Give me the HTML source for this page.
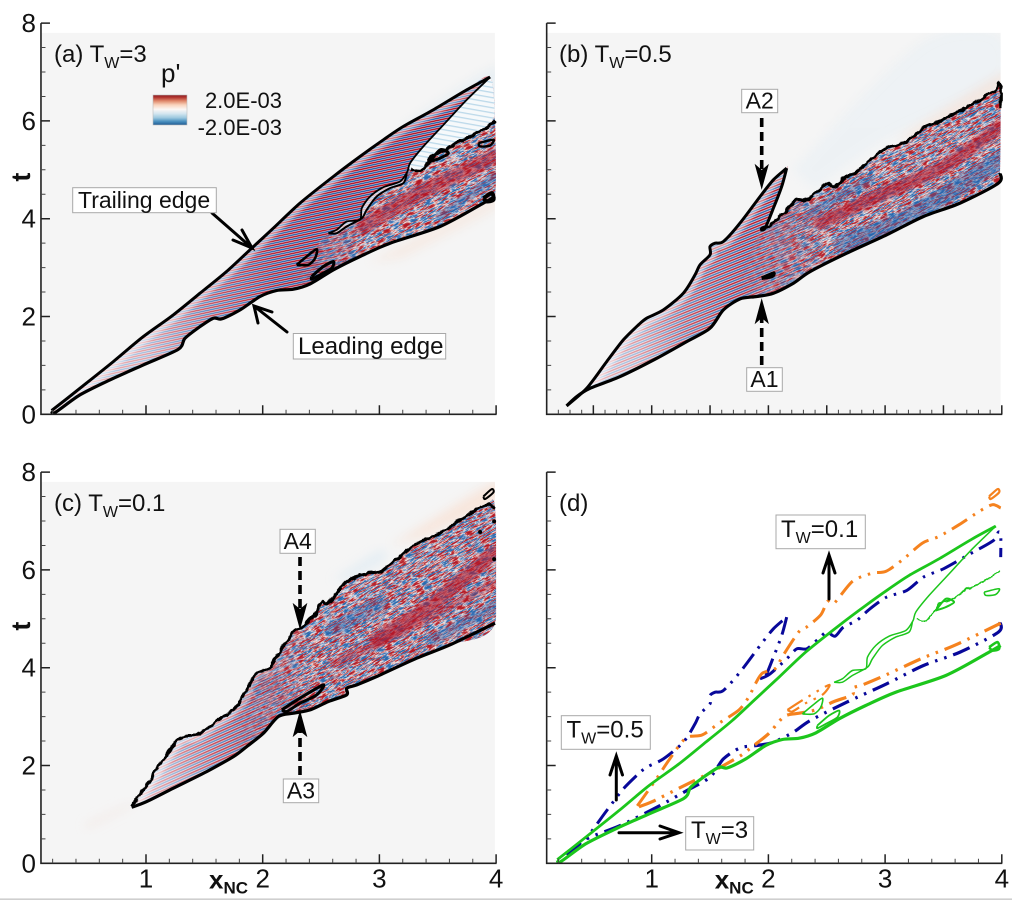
<!DOCTYPE html>
<html lang="en">
<head>
<meta charset="utf-8">
<title>Pressure fluctuation wave packets at several wall temperatures</title>
<style>
html,body{margin:0;padding:0;background:#fff;width:1012px;height:900px;overflow:hidden}
svg{display:block;font-family:"Liberation Sans",sans-serif}
text{fill:#111}
.box{fill:#fff;stroke:#a8a8a8;stroke-width:1}
.arrow{fill:none;stroke:#000;stroke-width:3;stroke-linecap:round;stroke-linejoin:miter}
.dash{fill:none;stroke:#000;stroke-width:3.6;stroke-dasharray:9 5}
</style>
</head>
<body>
<svg id="figure" xmlns="http://www.w3.org/2000/svg" width="1012" height="900" viewBox="0 0 1012 900">
  <defs>
    <pattern id="stripes-a" patternUnits="userSpaceOnUse" width="4" height="4" patternTransform="rotate(-12)">
      <rect width="4" height="4" fill="#f3dfe0"/><rect y="0" width="4" height="1.5" fill="#b2182b"/><rect y="2" width="4" height="1.5" fill="#2a62ad"/>
    </pattern>
    <pattern id="stripes-b" patternUnits="userSpaceOnUse" width="4.4" height="4.4" patternTransform="rotate(-22)">
      <rect width="4.4" height="4.4" fill="#f3dfe0"/><rect y="0" width="4.4" height="1.5" fill="#b2182b"/><rect y="2.2" width="4.4" height="1.5" fill="#2a62ad"/>
    </pattern>
    <pattern id="stripes-c" patternUnits="userSpaceOnUse" width="4.4" height="4.4" patternTransform="rotate(-24)">
      <rect width="4.4" height="4.4" fill="#f3dfe0"/><rect y="0" width="4.4" height="1.6" fill="#b2182b"/><rect y="2.2" width="4.4" height="1.5" fill="#2a62ad"/>
    </pattern>
    <pattern id="stripes-pale" patternUnits="userSpaceOnUse" width="5" height="5" patternTransform="rotate(10)">
      <rect width="5" height="5" fill="#f6f9fb"/><rect y="0" width="5" height="1.3" fill="#bcd9ea"/>
    </pattern>
    <filter id="noise-a" x="0" y="0" width="1" height="1" color-interpolation-filters="sRGB">
      <feTurbulence type="fractalNoise" baseFrequency="0.1 0.7" numOctaves="2" seed="4"/>
      <feColorMatrix type="matrix" values="1 0 0 0 0 1 0 0 0 0 1 0 0 0 0 0 0 0 0 1"/>
      <feComponentTransfer>
        <feFuncR type="table" tableValues=".13 .13 .13 .16 .3 .97 .76 .7 .7 .7 .7"/>
        <feFuncG type="table" tableValues=".4 .4 .4 .42 .5 .94 .22 .1 .1 .1 .1"/>
        <feFuncB type="table" tableValues=".67 .67 .67 .68 .75 .92 .22 .16 .16 .16 .16"/>
      </feComponentTransfer>
    </filter>
    <filter id="noise-b" x="0" y="0" width="1" height="1" color-interpolation-filters="sRGB">
      <feTurbulence type="fractalNoise" baseFrequency="0.11 0.75" numOctaves="2" seed="11"/>
      <feColorMatrix type="matrix" values="1 0 0 0 0 1 0 0 0 0 1 0 0 0 0 0 0 0 0 1"/>
      <feComponentTransfer>
        <feFuncR type="table" tableValues=".13 .13 .13 .16 .3 .97 .76 .7 .7 .7 .7"/>
        <feFuncG type="table" tableValues=".4 .4 .4 .42 .5 .94 .22 .1 .1 .1 .1"/>
        <feFuncB type="table" tableValues=".67 .67 .67 .68 .75 .92 .22 .16 .16 .16 .16"/>
      </feComponentTransfer>
    </filter>
    <filter id="noise-c" x="0" y="0" width="1" height="1" color-interpolation-filters="sRGB">
      <feTurbulence type="fractalNoise" baseFrequency="0.11 0.75" numOctaves="2" seed="23"/>
      <feColorMatrix type="matrix" values="1 0 0 0 0 1 0 0 0 0 1 0 0 0 0 0 0 0 0 1"/>
      <feComponentTransfer>
        <feFuncR type="table" tableValues=".13 .13 .13 .16 .3 .97 .76 .7 .7 .7 .7"/>
        <feFuncG type="table" tableValues=".4 .4 .4 .42 .5 .94 .22 .1 .1 .1 .1"/>
        <feFuncB type="table" tableValues=".67 .67 .67 .68 .75 .92 .22 .16 .16 .16 .16"/>
      </feComponentTransfer>
    </filter>
    <filter id="soft" x="-20%" y="-20%" width="140%" height="140%"><feGaussianBlur stdDeviation="1.5"/></filter>
    <filter id="softer" x="-20%" y="-20%" width="140%" height="140%"><feGaussianBlur stdDeviation="5"/></filter>
    <filter id="rough" x="-5%" y="-5%" width="110%" height="110%" color-interpolation-filters="sRGB">
      <feTurbulence type="fractalNoise" baseFrequency="0.13" numOctaves="2" seed="7" result="wobble"/>
      <feDisplacementMap in="SourceGraphic" in2="wobble" scale="5" xChannelSelector="R" yChannelSelector="G"/>
    </filter>
    <linearGradient id="colorbar-gradient" x1="0" y1="0" x2="0" y2="1">
      <stop offset="0" stop-color="#8a1c22"/><stop offset=".08" stop-color="#b2352f"/>
      <stop offset=".2" stop-color="#e08a6c"/><stop offset=".33" stop-color="#f9d3bd"/>
      <stop offset=".48" stop-color="#fbf7f5"/><stop offset=".62" stop-color="#d4e6f0"/>
      <stop offset=".76" stop-color="#9cc8df"/><stop offset=".88" stop-color="#4a90bf"/>
      <stop offset="1" stop-color="#1f5a93"/>
    </linearGradient>
  </defs>

  <g id="layer-fields"></g>
  <g id="layer-marks"></g>
  <g id="layer-axes"></g>

  <g>
    <text x="54" y="62" font-size="24">(a) T<tspan dy="6" font-size="16">W</tspan><tspan dy="-6">=3</tspan></text>
    <text x="559" y="62" font-size="24">(b) T<tspan dy="6" font-size="16">W</tspan><tspan dy="-6">=0.5</tspan></text>
    <text x="54" y="511" font-size="24">(c) T<tspan dy="6" font-size="16">W</tspan><tspan dy="-6">=0.1</tspan></text>
    <text x="559" y="511" font-size="24">(d)</text>
  </g>

  <g>
    <text x="161" y="82" font-size="26">p'</text>
    <rect x="153" y="95" width="34" height="30" fill="url(#colorbar-gradient)" stroke="#bbb" stroke-width=".6"/>
    <text x="282" y="108" font-size="22" text-anchor="end">2.0E-03</text>
    <text x="282" y="135" font-size="22" text-anchor="end">-2.0E-03</text>
  </g>

  <g>
    <path class="arrow" d="M212 213L252 248M233 240L252 248L242 230"/>
    <rect class="box" x="72.7" y="187.7" width="143.6" height="25"/>
    <text x="78" y="208" font-size="23">Trailing edge</text>
    <path class="arrow" d="M287 332L254 306M258 323L254 306L272 312"/>
    <rect class="box" x="293.3" y="333.5" width="152.4" height="25.5"/>
    <text x="298" y="354" font-size="24">Leading edge</text>
  </g>

  <g>
    <rect class="box" x="741.7" y="89.3" width="36" height="23.4"/>
    <text x="759.7" y="108.5" font-size="23" text-anchor="middle">A2</text>
    <path class="dash" d="M761.7 118V170"/>
    <path d="M761.7 187L756 166L761.7 171L767.5 166Z" stroke="#000" stroke-width="1.5"/>
    <rect class="box" x="746.7" y="367.7" width="35.6" height="23.6"/>
    <text x="764.5" y="387" font-size="23" text-anchor="middle">A1</text>
    <path class="dash" d="M761.7 365V318"/>
    <path d="M761.7 301L756 322L761.7 317L767.5 322Z" stroke="#000" stroke-width="1.5"/>
  </g>

  <g>
    <rect class="box" x="280" y="529.3" width="35.3" height="24"/>
    <text x="297.7" y="549" font-size="23" text-anchor="middle">A4</text>
    <path class="dash" d="M300 557V608"/>
    <path d="M300 627L294 605L300 610L306 605Z" stroke="#000" stroke-width="1.5"/>
    <rect class="box" x="283.3" y="779" width="35.4" height="23.7"/>
    <text x="301" y="798.5" font-size="23" text-anchor="middle">A3</text>
    <path class="dash" d="M300 775V731"/>
    <path d="M300 713L294 735L300 730L306 735Z" stroke="#000" stroke-width="1.5"/>
  </g>

  <g>
    <rect class="box" x="776" y="515" width="89.3" height="33.7"/>
    <text x="781" y="537" font-size="24">T<tspan dy="6" font-size="16">W</tspan><tspan dy="-6">=0.1</tspan></text>
    <path class="arrow" stroke-width="3" d="M829 599V556M823 573L829 555L835 573"/>
    <rect class="box" x="561.3" y="715.7" width="89" height="33.6"/>
    <text x="566.5" y="737.5" font-size="24">T<tspan dy="6" font-size="16">W</tspan><tspan dy="-6">=0.5</tspan></text>
    <path class="arrow" d="M616.3 800V757M610 775L616.3 756L622.5 775"/>
    <rect class="box" x="685.7" y="816.7" width="68" height="33.3"/>
    <text x="691" y="838" font-size="24">T<tspan dy="6" font-size="16">W</tspan><tspan dy="-6">=3</tspan></text>
    <path class="arrow" d="M619 832.7H678M660 826L679 832.7L660 839"/>
  </g>
  <rect x="0" y="898.4" width="1012" height="1.6" fill="#cfcfcf"/>
</svg>

<script>
// ---------- Axis ticks and labels ----------
const xMajorTicks = [1, 2, 3, 4];
const xLabels = ['1', '2', '3', '4'];
const xMajorTicksFine = [0.5, 1, 1.5, 2, 2.5, 3, 3.5, 4];
const xMinorTicks = [0.2, 0.4, 0.6, 0.8, 1.2, 1.4, 1.6, 1.8, 2.2, 2.4, 2.6, 2.8, 3.2, 3.4, 3.6, 3.8];
const xMinorTicksFine = [0.2, 0.3, 0.4, 0.6, 0.7, 0.8, 0.9, 1.1, 1.2, 1.3, 1.4, 1.6, 1.7, 1.8, 1.9, 2.1, 2.2, 2.3, 2.4, 2.6, 2.7, 2.8, 2.9, 3.1, 3.2, 3.3, 3.4, 3.6, 3.7, 3.8, 3.9];
const tMajorTicks = [0, 2, 4, 6, 8];
const tLabels = ['0', '2', '4', '6', '8'];
const tMinorTicks = [0.5, 1, 1.5, 2.5, 3, 3.5, 4.5, 5, 5.5, 6.5, 7, 7.5];

// ---------- T_W = 3 contours (x_NC, t) ----------
const aTrailingEdge = [[0.191,0.075],[0.434,0.532],[0.72,1.078],[0.977,1.589],[1.234,2.033],[1.463,2.476],[1.691,2.92],[1.891,3.363],[2.091,3.806],[2.32,4.318],[2.606,4.864],[2.834,5.273],[3.034,5.614],[3.206,5.887],[3.463,6.228],[3.749,6.637],[3.949,6.896]];
const aLeadingEdge = [[0.191,0.075],[0.22,0.034],[0.434,0.396],[0.691,0.703],[0.977,1.01],[1.277,1.33],[1.334,1.555],[1.463,1.794],[1.577,1.965],[1.649,1.951],[1.806,2.135],[1.977,2.408],[2.12,2.531],[2.263,2.558],[2.406,2.667],[2.606,2.954],[2.834,3.227],[3.091,3.499],[3.52,3.84],[3.891,4.318],[3.991,4.454]];
const aInnerLine = [[3.949,6.896],[3.749,6.433],[3.549,5.921],[3.377,5.478],[3.263,5.136],[3.24,4.966],[3.177,4.761],[3.034,4.645],[2.92,4.454],[2.849,4.216],[2.834,3.977],[2.72,3.943],[2.634,3.772],[2.563,3.704]];
const aLensReturn = [[2.563,3.704],[2.634,3.704],[2.72,3.84],[2.849,4.011],[2.891,4.181],[2.977,4.454],[3.091,4.625],[3.206,4.727],[3.234,4.932]];
const aTurbulentFront = [[3.263,5.0],[3.349,4.966],[3.42,5.136],[3.463,5.307],[3.577,5.409],[3.663,5.546],[3.777,5.682],[3.863,5.784],[3.949,5.921],[3.991,5.989]];
const aBlobOne = [[2.291,3.056],[2.377,3.227],[2.463,3.377],[2.449,3.193],[2.391,3.056],[2.291,3.056]];
const aBlobTwo = [[2.42,2.817],[2.52,3.022],[2.606,3.124],[2.591,2.988],[2.491,2.851],[2.42,2.762],[2.42,2.817]];
const aBlobThree = [[3.891,4.42],[3.963,4.523],[3.977,4.386],[3.92,4.352],[3.891,4.42]];
const aBlobFour = [[3.434,5.17],[3.52,5.409],[3.591,5.341],[3.52,5.239],[3.434,5.17]];
const aBlobFive = [[3.849,5.546],[3.977,5.614],[3.949,5.498],[3.863,5.478],[3.849,5.546]];

// ---------- T_W = 0.5 contours ----------
const bUpperEdge = [[0.271,0.171],[0.443,0.532],[0.614,1.078],[0.757,1.521],[0.886,1.828],[0.957,1.965],[1.1,2.135],[1.271,2.476],[1.371,2.851],[1.414,3.056],[1.5,3.261],[1.5,3.431],[1.543,3.499],[1.614,3.533],[1.757,3.909],[1.929,4.454],[2.043,4.795],[2.157,5.034]];
const bTipReturn = [[2.157,5.034],[2.114,4.659],[2.043,4.216],[1.971,3.806],[1.929,3.772]];
const bTurbulentFront = [[1.929,3.772],[2.014,3.874],[2.157,4.181],[2.243,4.386],[2.329,4.386],[2.429,4.591],[2.5,4.727],[2.571,4.645],[2.643,4.83],[2.757,4.966],[2.871,5.205],[3.014,5.443],[3.186,5.58],[3.329,5.853],[3.5,6.023],[3.729,6.33],[3.929,6.603],[3.971,6.774],[3.991,6.705],[3.991,6.262]];
const bLowerEdge = [[3.985,4.932],[3.971,4.727],[3.643,4.318],[3.329,4.045],[3.014,3.67],[2.671,3.295],[2.357,2.919],[2.214,2.681],[2.043,2.476],[1.9,2.408],[1.757,2.36],[1.614,2.135],[1.5,1.76],[1.3,1.487],[1.043,1.146],[0.729,0.771],[0.471,0.532],[0.357,0.362],[0.271,0.171]];
const bBlobOne = [[1.943,2.783],[2.043,2.885],[2.029,2.817],[1.943,2.783]];

// ---------- T_W = 0.1 contours ----------
const cUpperEdge = [[0.877,1.173],[1.034,1.705],[1.149,2.115],[1.291,2.558],[1.434,2.626],[1.577,2.865],[1.749,3.138],[1.834,3.411],[1.891,3.683],[1.949,3.888],[2.063,3.99],[2.12,4.229],[2.263,4.741],[2.334,4.843],[2.449,5.082],[2.506,5.355],[2.563,5.32],[2.72,5.764],[2.891,5.935],[3.006,5.969],[3.149,6.207],[3.32,6.548],[3.463,6.685],[3.634,6.924],[3.806,7.196],[3.92,7.333],[3.991,7.265]];
const cLowerEdge = [[3.991,4.911],[3.606,4.468],[3.32,4.195],[2.977,3.82],[2.806,3.649],[2.72,3.581],[2.72,3.445],[2.563,3.308],[2.406,3.138],[2.263,3.07],[2.134,3.001],[2.006,2.66],[1.863,2.387],[1.749,2.183],[1.52,1.876],[1.234,1.535],[1.006,1.262],[0.877,1.146]];
const cBlobOne = [[2.163,3.138],[2.32,3.377],[2.52,3.649],[2.463,3.445],[2.32,3.274],[2.206,3.104],[2.163,3.138]];
const cBlobTop = [[3.891,7.503],[3.963,7.653],[3.977,7.585],[3.906,7.449],[3.891,7.503]];
const cSpecks = [[3.863,6.774],[3.983,6.992],[3.983,6.221]];

// ---------- Coherent streaks seen in the turbulent regions ----------
const aRedStreak = [[2.863,3.84],[3.349,4.523],[3.991,5.273]];
const aBlueStreakUpper = [[2.606,4.045],[3.234,4.93]];
const aBlueStreakLower = [[3.52,4.045],[3.991,4.863]];
const bRedStreak = [[2.443,3.909],[2.929,4.454],[3.5,5.068],[3.986,5.887]];
const bBlueStreakLower = [[2.643,3.499],[3.214,4.045],[3.986,5.205]];
const bBlueStreakUpper = [[2.357,4.113],[2.871,4.795]];
const cRedStreak = [[2.977,4.57],[3.463,5.32],[3.977,6.344]];
const cRedStreakLower = [[2.606,4.093],[3.177,4.707],[3.977,5.73]];
const cBlueStreakUpper = [[2.606,4.775],[3.006,5.32]];
const cBlueStreakLower = [[3.463,4.57],[3.977,5.252]];

// ---------- Axis functions ----------
const xUnit = 116.7;
const tUnit = 48.9;
const panelA = {id: 'a', x0: 29.3, t0: 414.3};
const panelB = {id: 'b', x0: 535, t0: 414.3};
const panelC = {id: 'c', x0: 29.3, t0: 863.3};
const panelD = {id: 'd', x0: 535, t0: 863.3};
function sx(p, x) { return p.x0 + x * xUnit; }
function sy(p, t) { return p.t0 - t * tUnit; }

const SVG_NS = 'http://www.w3.org/2000/svg';
const fieldsLayer = document.getElementById('layer-fields');
const marksLayer = document.getElementById('layer-marks');
const axesLayer = document.getElementById('layer-axes');
const defsNode = document.querySelector('#figure defs');

function make(tag, parent) {
  const node = document.createElementNS(SVG_NS, tag);
  parent.appendChild(node);
  return node;
}
// Smooth path through the data points (Catmull-Rom converted to cubic segments)
function pathOf(p, pts, closed) {
  const q = pts.map(function (d) { return [sx(p, d[0]), sy(p, d[1])]; });
  let d = 'M' + q[0][0].toFixed(1) + ' ' + q[0][1].toFixed(1);
  for (let i = 0; i < q.length - 1; i++) {
    const a = q[i - 1] || q[i];
    const b = q[i];
    const c = q[i + 1];
    const e = q[i + 2] || c;
    const k = 0.14;
    d += 'C' + (b[0] + (c[0] - a[0]) * k).toFixed(1) + ' ' + (b[1] + (c[1] - a[1]) * k).toFixed(1) +
         ' ' + (c[0] - (e[0] - b[0]) * k).toFixed(1) + ' ' + (c[1] - (e[1] - b[1]) * k).toFixed(1) +
         ' ' + c[0].toFixed(1) + ' ' + c[1].toFixed(1);
  }
  return d + (closed ? 'Z' : '');
}
function drawCurve(p, pts, label, color, width, dash, rough) {
  const curve = make('path', marksLayer);
  
  
  curve.setAttribute('d', pathOf(p, pts, false));
  curve.setAttribute('fill', 'none');
  curve.setAttribute('stroke', color);
  curve.setAttribute('stroke-width', width);
  curve.setAttribute('stroke-linejoin', 'round');
  if (dash) curve.setAttribute('stroke-dasharray', dash);
  if (rough) curve.setAttribute('filter', 'url(#rough)');
  return curve;
}
function drawStreak(p, pts, label, color, width, opacity, group) {
  const streak = make('path', group);
  
  
  streak.setAttribute('d', pathOf(p, pts, false));
  streak.setAttribute('fill', 'none');
  streak.setAttribute('stroke', color);
  streak.setAttribute('stroke-width', width);
  streak.setAttribute('stroke-linecap', 'round');
  streak.setAttribute('opacity', opacity);
  streak.setAttribute('filter', 'url(#soft)');
}
function addGradient(id, p, stops) {
  const g = make('linearGradient', defsNode);
  g.setAttribute('id', id);
  g.setAttribute('gradientUnits', 'userSpaceOnUse');
  g.setAttribute('x1', sx(p, stops[0][0]));
  g.setAttribute('x2', sx(p, stops[stops.length - 1][0]));
  g.setAttribute('y1', 0);
  g.setAttribute('y2', 0);
  const span = stops[stops.length - 1][0] - stops[0][0];
  stops.forEach(function (s) {
    const st = make('stop', g);
    st.setAttribute('offset', (s[0] - stops[0][0]) / span);
    st.setAttribute('stop-color', s[2]);
    st.setAttribute('stop-opacity', s[1]);
  });
}
function addClip(id, p, pts) {
  const c = make('clipPath', defsNode);
  c.setAttribute('id', id);
  const shape = make('path', c);
  shape.setAttribute('d', pathOf(p, pts, true));
}
// A rotated tile of anisotropic noise, used as a fill so the painted rect stays inside the panel
function addNoiseTile(p, angle) {
  const cx = sx(p, 2.6);
  const cy = sy(p, 4.4);
  const size = 800;
  const tile = make('pattern', defsNode);
  tile.setAttribute('id', 'noisetile-' + p.id);
  tile.setAttribute('patternUnits', 'userSpaceOnUse');
  tile.setAttribute('x', 0);
  tile.setAttribute('y', 0);
  tile.setAttribute('width', size);
  tile.setAttribute('height', size);
  tile.setAttribute('patternTransform', 'translate(' + cx + ' ' + cy + ') rotate(' + angle + ') translate(' + (-size / 2) + ' ' + (-size / 2) + ')');
  const tileRect = make('rect', tile);
  tileRect.setAttribute('x', 0);
  tileRect.setAttribute('y', 0);
  tileRect.setAttribute('width', size);
  tileRect.setAttribute('height', size);
  tileRect.setAttribute('filter', 'url(#noise-' + p.id + ')');
}

// ---------- Field rendering for a pressure panel ----------
function drawField(cfg) {
  const p = cfg.panel;
  const bg = make('rect', fieldsLayer);
  
  
  bg.setAttribute('x', sx(p, 0.105));
  bg.setAttribute('y', sy(p, 7.8));
  bg.setAttribute('width', sx(p, 3.99) - sx(p, 0.105));
  bg.setAttribute('height', 7.8 * tUnit);
  bg.setAttribute('fill', '#f5f5f5');

  const haloClip = 'haloclip-' + p.id;
  const hc = make('clipPath', defsNode);
  hc.setAttribute('id', haloClip);
  const hcRect = make('rect', hc);
  hcRect.setAttribute('x', sx(p, 0.105));
  hcRect.setAttribute('y', sy(p, 7.8));
  hcRect.setAttribute('width', sx(p, 3.99) - sx(p, 0.105));
  hcRect.setAttribute('height', 7.8 * tUnit);
  const haloGroup = make('g', fieldsLayer);
  haloGroup.setAttribute('clip-path', 'url(#' + haloClip + ')');
  cfg.halos.forEach(function (h, i) {
    const halo = make('path', haloGroup);
    
    
    halo.setAttribute('d', pathOf(p, h.pts, true));
    halo.setAttribute('fill', h.color);
    halo.setAttribute('opacity', h.opacity);
    halo.setAttribute('filter', 'url(#softer)');
  });

  addClip('band-' + p.id, p, cfg.band);
  addClip('turb-' + p.id, p, cfg.turbulent);
  addGradient('fade-' + p.id, p, cfg.fade);
  addGradient('noisefade-' + p.id, p, cfg.noiseFade);
  addNoiseTile(p, cfg.noiseAngle);

  const bandGroup = make('g', fieldsLayer);
  
  
  bandGroup.setAttribute('clip-path', 'url(#band-' + p.id + ')');

  const stripes = make('rect', bandGroup);
  
  
  stripes.setAttribute('x', sx(p, 0.1));
  stripes.setAttribute('y', sy(p, 8));
  stripes.setAttribute('width', 3.9 * xUnit);
  stripes.setAttribute('height', 8 * tUnit);
  stripes.setAttribute('fill', 'url(#stripes-' + p.id + ')');

  const fade = make('rect', bandGroup);
  
  
  fade.setAttribute('x', sx(p, 0.1));
  fade.setAttribute('y', sy(p, 8));
  fade.setAttribute('width', 3.9 * xUnit);
  fade.setAttribute('height', 8 * tUnit);
  fade.setAttribute('fill', 'url(#fade-' + p.id + ')');

  const edgeGlow = make('path', bandGroup);
  
  
  edgeGlow.setAttribute('d', pathOf(p, cfg.glowEdge, false));
  edgeGlow.setAttribute('fill', 'none');
  edgeGlow.setAttribute('stroke', '#fff');
  edgeGlow.setAttribute('stroke-width', '13');
  edgeGlow.setAttribute('opacity', '.45');
  edgeGlow.setAttribute('filter', 'url(#soft)');

  if (cfg.wedge) {
    const wedge = make('path', bandGroup);
    
    
    wedge.setAttribute('d', pathOf(p, cfg.wedge, true));
    wedge.setAttribute('fill', 'url(#stripes-pale)');
  }

  const turbGroup = make('g', bandGroup);
  
  
  turbGroup.setAttribute('clip-path', 'url(#turb-' + p.id + ')');

  const fadeMask = make('mask', defsNode);
  fadeMask.setAttribute('id', 'mask-' + p.id);
  fadeMask.setAttribute('maskUnits', 'userSpaceOnUse');
  fadeMask.setAttribute('x', sx(p, 0.1));
  fadeMask.setAttribute('y', sy(p, 8));
  fadeMask.setAttribute('width', 3.9 * xUnit);
  fadeMask.setAttribute('height', 8 * tUnit);
  const maskRect = make('rect', fadeMask);
  maskRect.setAttribute('x', sx(p, 0.1));
  maskRect.setAttribute('y', sy(p, 8));
  maskRect.setAttribute('width', 3.9 * xUnit);
  maskRect.setAttribute('height', 8 * tUnit);
  maskRect.setAttribute('fill', 'url(#noisefade-' + p.id + ')');

  const maskedGroup = make('g', turbGroup);
  maskedGroup.setAttribute('mask', 'url(#mask-' + p.id + ')');
  const noise = make('rect', maskedGroup);
  
  
  noise.setAttribute('x', sx(p, 0.1));
  noise.setAttribute('y', sy(p, 8));
  noise.setAttribute('width', 3.9 * xUnit);
  noise.setAttribute('height', 8 * tUnit);
  noise.setAttribute('fill', 'url(#noisetile-' + p.id + ')');

  cfg.streaks.forEach(function (s) {
    drawStreak(p, s.pts, s.label, s.color, s.width, s.opacity, maskedGroup);
  });
}

// ---------- Axes ----------
function drawAxes(p, cfg) {
  const g = make('g', axesLayer);
  
  
  const left = sx(p, 0.1);
  const right = sx(p, 4) + 0.5;
  const axisPath = make('path', g);
  
  
  axisPath.setAttribute('d', 'M' + left + ' ' + sy(p, 8) + 'V' + p.t0 + 'H' + right);
  axisPath.setAttribute('fill', 'none');
  axisPath.setAttribute('stroke', '#222');
  axisPath.setAttribute('stroke-width', '1.6');

  let major = '';
  let minor = '';
  tMajorTicks.forEach(function (t) { major += 'M' + left + ' ' + sy(p, t) + 'h9'; });
  tMinorTicks.forEach(function (t) { minor += 'M' + left + ' ' + sy(p, t) + 'h4.5'; });
  cfg.xMajor.forEach(function (x) { major += 'M' + sx(p, x) + ' ' + p.t0 + 'v-9'; });
  cfg.xMinor.forEach(function (x) { minor += 'M' + sx(p, x) + ' ' + p.t0 + 'v-4.5'; });
  const majorPath = make('path', g);
  
  
  majorPath.setAttribute('d', major);
  majorPath.setAttribute('stroke', '#222');
  majorPath.setAttribute('stroke-width', '1.5');
  const minorPath = make('path', g);
  
  
  minorPath.setAttribute('d', minor);
  minorPath.setAttribute('stroke', '#444');
  minorPath.setAttribute('stroke-width', '1');

  if (cfg.yLabels) {
    tMajorTicks.forEach(function (t, i) {
      const lab = make('text', g);
      
      
      lab.setAttribute('x', 36);
      lab.setAttribute('y', sy(p, t) + 9);
      lab.setAttribute('text-anchor', 'end');
      lab.setAttribute('font-size', '26');
      lab.textContent = tLabels[i];
    });
    const yTitle = make('text', g);
    
    
    yTitle.setAttribute('transform', 'translate(30 ' + sy(p, 4.85) + ') rotate(-90)');
    yTitle.setAttribute('text-anchor', 'middle');
    yTitle.setAttribute('font-size', '27');
    yTitle.setAttribute('font-weight', 'bold');
    yTitle.textContent = 't';
  }
  if (cfg.xLabels) {
    xMajorTicks.forEach(function (x, i) {
      const lab = make('text', g);
      
      
      lab.setAttribute('x', sx(p, x));
      lab.setAttribute('y', p.t0 + 24);
      lab.setAttribute('text-anchor', 'middle');
      lab.setAttribute('font-size', '26');
      lab.textContent = xLabels[i];
    });
    const xTitle = make('text', g);
    
    
    xTitle.setAttribute('x', sx(p, 1.54));
    xTitle.setAttribute('y', p.t0 + 25);
    xTitle.setAttribute('font-size', '26');
    xTitle.setAttribute('font-weight', 'bold');
    xTitle.innerHTML = 'x<tspan dy="5" font-size="17">NC</tspan>';
  }
}

// ---------- Compose regions from the contour arrays ----------
const rev = function (a) { return a.slice().reverse(); };
const aBand = aTrailingEdge.concat(aTurbulentFront.slice(-1), rev(aLeadingEdge));
const aTurb = [[2.29, 3.06]].concat(aLensReturn, aTurbulentFront, rev(aLeadingEdge).filter(function (q) { return q[0] > 2.25; }));
const aWedge = aInnerLine.slice(0, 5).concat(aTurbulentFront, [[3.99, 6.9]]);
const bBand = bUpperEdge.concat(bTipReturn, bTurbulentFront, bLowerEdge);
const bTurb = bTurbulentFront.concat(bLowerEdge.filter(function (q) { return q[0] > 1.6; }));
const cBand = cUpperEdge.concat(cLowerEdge);
const cTurb = cUpperEdge.filter(function (q) { return q[0] > 1.6; }).concat(cLowerEdge.filter(function (q) { return q[0] > 1.6; }));

drawField({
  panel: panelA, band: aBand, turbulent: aTurb, wedge: aWedge, glowEdge: aTrailingEdge, noiseAngle: -26,
  fade: [[0.2, .7, '#fff'], [1.0, .6, '#fff'], [1.5, .3, '#fff'], [2.1, .06, '#fff'], [2.6, 0, '#fff']],
  noiseFade: [[2.25, 0, '#fff'], [2.9, 1, '#fff'], [4, 1, '#fff']],
  halos: [
    {pts: [[3.2, 5.9], [3.99, 7.1], [3.99, 6.3], [3.5, 5.5]], color: '#d8e8f1', opacity: .4},
    {pts: [[2.9, 3.1], [3.99, 4.45], [3.99, 4.2], [3.2, 3.2]], color: '#f7d9c8', opacity: .35}
  ],
  streaks: [
    {pts: aRedStreak, label: 'panel-a-red-streak', color: '#b2182b', width: 15, opacity: .55},
    {pts: aBlueStreakUpper, label: 'panel-a-blue-streak-upper', color: '#2a62ad', width: 8, opacity: .45},
    {pts: aBlueStreakLower, label: 'panel-a-blue-streak-lower', color: '#2a62ad', width: 8, opacity: .45}
  ]
});

drawField({
  panel: panelB, band: bBand, turbulent: bTurb, wedge: null, glowEdge: bUpperEdge, noiseAngle: -28,
  fade: [[0.3, .75, '#fff'], [0.9, .55, '#fff'], [1.3, .25, '#fff'], [1.8, .05, '#fff'], [2.3, 0, '#fff']],
  noiseFade: [[1.7, 0, '#fff'], [2.5, 1, '#fff'], [4, 1, '#fff']],
  halos: [
    {pts: [[2.2, 5.0], [3.3, 7.6], [3.95, 7.8], [3.99, 6.8], [3.0, 5.6], [2.4, 4.6]], color: '#e3edf4', opacity: .4},
    {pts: [[3.1, 5.6], [3.99, 6.95], [3.95, 6.6], [3.3, 5.7]], color: '#f7d3c0', opacity: .4}
  ],
  streaks: [
    {pts: bRedStreak, label: 'panel-b-red-streak', color: '#b2182b', width: 13, opacity: .6},
    {pts: bBlueStreakLower, label: 'panel-b-blue-streak-lower', color: '#2a62ad', width: 18, opacity: .45},
    {pts: bBlueStreakUpper, label: 'panel-b-blue-streak-upper', color: '#2a62ad', width: 9, opacity: .4}
  ]
});

drawField({
  panel: panelC, band: cBand, turbulent: cTurb, wedge: null, glowEdge: cUpperEdge, noiseAngle: -30,
  fade: [[0.85, .75, '#fff'], [1.2, .55, '#fff'], [1.6, .25, '#fff'], [2, .05, '#fff'], [2.3, 0, '#fff']],
  noiseFade: [[1.7, 0, '#fff'], [2.4, 1, '#fff'], [4, 1, '#fff']],
  halos: [
    {pts: [[3.1, 6.5], [3.99, 7.8], [3.99, 7.4], [3.4, 6.7]], color: '#f9dccb', opacity: .6},
    {pts: [[2.6, 5.8], [3.0, 6.4], [3.05, 6.2], [2.75, 5.8]], color: '#d7e7f2', opacity: .5},
    {pts: [[0.5, 0.7], [0.87, 1.15], [0.85, 1.22], [0.47, 0.8]], color: '#f2e4e0', opacity: .6}
  ],
  streaks: [
    {pts: cRedStreak, label: 'panel-c-red-streak', color: '#b2182b', width: 14, opacity: .6},
    {pts: cRedStreakLower, label: 'panel-c-red-streak-lower', color: '#b2182b', width: 8, opacity: .4},
    {pts: cBlueStreakUpper, label: 'panel-c-blue-streak-upper', color: '#2a62ad', width: 15, opacity: .35},
    {pts: cBlueStreakLower, label: 'panel-c-blue-streak-lower', color: '#2a62ad', width: 11, opacity: .4}
  ]
});

// Pale lens between the thin inner line and the turbulent front in panel (a)
const lensShape = make('path', fieldsLayer);


lensShape.setAttribute('d', pathOf(panelA, aInnerLine.slice(5).concat(aLensReturn.slice(1)), true));
lensShape.setAttribute('fill', '#f6fafc');
lensShape.setAttribute('opacity', '.7');

// ---------- Black contours in panels (a)-(c) ----------
const BLACK = '#000';
drawCurve(panelA, aTrailingEdge, 'panel-a-trailing-edge', BLACK, 3);
drawCurve(panelA, aLeadingEdge, 'panel-a-leading-edge', BLACK, 3.2);
drawCurve(panelA, aInnerLine, 'panel-a-inner-line', BLACK, 1.8);
drawCurve(panelA, aLensReturn, 'panel-a-lens-return', BLACK, 2);
drawCurve(panelA, aTurbulentFront, 'panel-a-turbulent-front', BLACK, 3, null, true);
drawCurve(panelA, aBlobOne, 'panel-a-blob-one', BLACK, 2.6);
drawCurve(panelA, aBlobTwo, 'panel-a-blob-two', BLACK, 3);
drawCurve(panelA, aBlobThree, 'panel-a-blob-three', BLACK, 4);
drawCurve(panelA, aBlobFour, 'panel-a-blob-four', BLACK, 3);
drawCurve(panelA, aBlobFive, 'panel-a-blob-five', BLACK, 2.4);

drawCurve(panelB, bUpperEdge, 'panel-b-upper-edge', BLACK, 3);
drawCurve(panelB, bTipReturn, 'panel-b-tip-return', BLACK, 3);
drawCurve(panelB, bTurbulentFront, 'panel-b-turbulent-front', BLACK, 3, null, true);
drawCurve(panelB, bLowerEdge, 'panel-b-lower-edge', BLACK, 3.2);
drawCurve(panelB, bBlobOne, 'panel-b-blob-one', BLACK, 3.6);

drawCurve(panelC, cUpperEdge, 'panel-c-upper-edge', BLACK, 3, null, true);
drawCurve(panelC, cLowerEdge, 'panel-c-lower-edge', BLACK, 3.2);
drawCurve(panelC, cBlobOne, 'panel-c-blob-one', BLACK, 3);
drawCurve(panelC, cBlobTop, 'panel-c-blob-top', BLACK, 2);
cSpecks.forEach(function (q) {
  const speck = make('circle', marksLayer);
  
  
  speck.setAttribute('cx', sx(panelC, q[0]));
  speck.setAttribute('cy', sy(panelC, q[1]));
  speck.setAttribute('r', 2);
});

// ---------- Panel (d): contours from all three wall temperatures ----------
const BLUE = '#08089a';
const ORANGE = '#f5821e';
const GREEN = '#1cc61c';
const DASHES = '18 7 2.5 7 2.5 7';
drawCurve(panelD, bUpperEdge, 'tw05-upper-edge', BLUE, 3, DASHES);
drawCurve(panelD, bTipReturn, 'tw05-tip-return', BLUE, 3, DASHES);
drawCurve(panelD, bTurbulentFront, 'tw05-turbulent-front', BLUE, 3, DASHES);
drawCurve(panelD, bLowerEdge, 'tw05-lower-edge', BLUE, 3.2, DASHES);
drawCurve(panelD, cUpperEdge, 'tw01-upper-edge', ORANGE, 3, DASHES);
drawCurve(panelD, cLowerEdge, 'tw01-lower-edge', ORANGE, 3.2, DASHES);
drawCurve(panelD, cBlobOne, 'tw01-blob-one', ORANGE, 2.2, DASHES);
drawCurve(panelD, cBlobTop, 'tw01-blob-top', ORANGE, 2.2);
drawCurve(panelD, aTrailingEdge, 'tw3-trailing-edge', GREEN, 2.8);
drawCurve(panelD, aLeadingEdge, 'tw3-leading-edge', GREEN, 3.2);
drawCurve(panelD, aInnerLine, 'tw3-inner-line', GREEN, 1.5);
drawCurve(panelD, aLensReturn, 'tw3-lens-return', GREEN, 1.5);
drawCurve(panelD, aTurbulentFront, 'tw3-turbulent-front', GREEN, 1.8, null, true);
drawCurve(panelD, aBlobOne, 'tw3-blob-one', GREEN, 1.6);
drawCurve(panelD, aBlobTwo, 'tw3-blob-two', GREEN, 1.8);
drawCurve(panelD, aBlobThree, 'tw3-blob-three', GREEN, 2.6);
drawCurve(panelD, aBlobFour, 'tw3-blob-four', GREEN, 2);
drawCurve(panelD, aBlobFive, 'tw3-blob-five', GREEN, 1.6);

drawAxes(panelA, {xMajor: xMajorTicks, xMinor: xMinorTicks, yLabels: true, xLabels: false});
drawAxes(panelB, {xMajor: xMajorTicksFine, xMinor: xMinorTicksFine, yLabels: false, xLabels: false});
drawAxes(panelC, {xMajor: xMajorTicks, xMinor: xMinorTicks, yLabels: true, xLabels: true});
drawAxes(panelD, {xMajor: xMajorTicks, xMinor: xMinorTicks, yLabels: false, xLabels: true});
</script>
</body>
</html>
